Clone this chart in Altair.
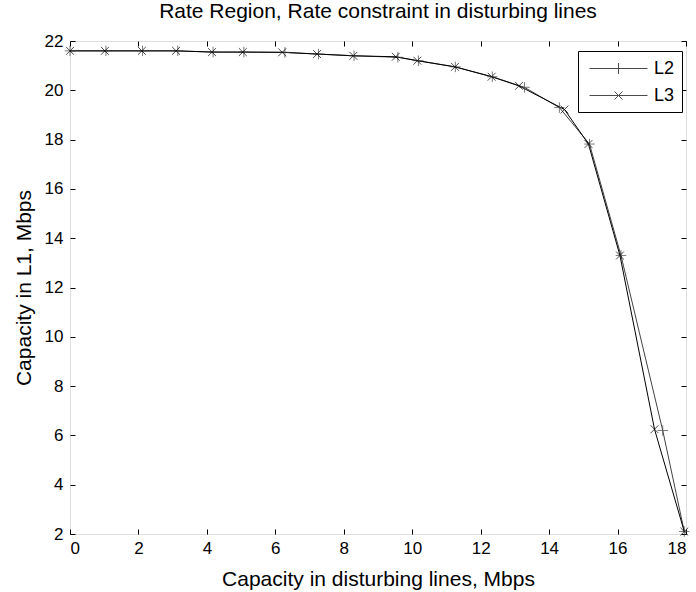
import altair as alt
import pandas as pd

series = ["L2", "L3"]
l2_x = [0, 1.05, 2.12, 3.15, 4.18, 5.08, 6.28, 7.26, 8.3, 9.58, 10.18, 11.26, 12.34, 13.28, 14.3, 15.18, 16.1, 17.32, 17.95]
l2_y = [21.6, 21.6, 21.6, 21.6, 21.55, 21.55, 21.54, 21.47, 21.4, 21.34, 21.2, 20.95, 20.55, 20.12, 19.3, 17.82, 13.3, 6.2, 2.1]
l3_x = [0, 1.02, 2.1, 3.1, 4.15, 5.05, 6.2, 7.22, 8.28, 9.52, 10.15, 11.25, 12.32, 13.12, 14.45, 15.15, 16.07, 17.08, 17.95]
l3_y = [21.6, 21.6, 21.6, 21.6, 21.55, 21.55, 21.54, 21.47, 21.4, 21.36, 21.2, 20.95, 20.55, 20.18, 19.22, 17.82, 13.3, 6.25, 2.1]
x_ticks = [0, 2, 4, 6, 8, 10, 12, 14, 16, 18]
y_ticks = [2, 4, 6, 8, 10, 12, 14, 16, 18, 20, 22]

df = pd.concat([
    pd.DataFrame({"x": l2_x, "y": l2_y, "series": "L2"}),
    pd.DataFrame({"x": l3_x, "y": l3_y, "series": "L3"}),
], ignore_index=True)

FONT = "Liberation Sans"
PLUS = "M-1,0H1M0,-1V1"
CROSS = "M-0.75,-0.75L0.75,0.75M-0.75,0.75L0.75,-0.75"
LEG_PLUS = "M-0.6,0H5.2M2.3,-0.55V0.55"
LEG_CROSS = "M-0.6,0H5.2M1.9,-0.4L2.7,0.4M1.9,0.4L2.7,-0.4"

x_scale = alt.Scale(domain=[0, 18], nice=False, zero=False)
y_scale = alt.Scale(domain=[2, 22], nice=False, zero=False)
color_scale = alt.Scale(domain=series, range=["#444444", "#000000"])

common_axis = dict(tickSize=5, offset=-5, domain=False, grid=False,
                   tickColor="black", labelColor="black", titleColor="black",
                   labelFont=FONT, titleFont=FONT, labelFontSize=17,
                   titleFontSize=21, titleFontWeight="normal")

x_axis = alt.Axis(values=x_ticks, orient="bottom", labelPadding=6, titlePadding=12,
                  title="Capacity in disturbing lines, Mbps", **common_axis)
y_axis = alt.Axis(values=y_ticks, orient="left", labelPadding=7, titlePadding=10,
                  title="Capacity in L1, Mbps", **common_axis)
x_axis_top = alt.Axis(values=x_ticks, orient="top", labels=False, title=None,
                      tickSize=5, offset=-5, domain=False, grid=False, tickColor="black")
y_axis_right = alt.Axis(values=y_ticks, orient="right", labels=False, title=None,
                        tickSize=5, offset=-5, domain=False, grid=False, tickColor="black")

base = alt.Chart(df)

lines = base.mark_line(strokeWidth=1).encode(
    x=alt.X("x:Q", scale=x_scale, axis=x_axis),
    y=alt.Y("y:Q", scale=y_scale, axis=y_axis),
    color=alt.Color("series:N", scale=color_scale, legend=None),
    detail="series:N",
)

points = base.mark_point(filled=False, size=110, strokeWidth=1).encode(
    x=alt.X("x:Q", scale=x_scale, axis=None),
    y=alt.Y("y:Q", scale=y_scale, axis=None),
    color=alt.Color("series:N", scale=color_scale, legend=None),
    shape=alt.Shape("series:N", scale=alt.Scale(domain=series, range=[PLUS, CROSS]), legend=None),
)

legend_layer = base.transform_filter("false").mark_point(
    filled=False, strokeWidth=1, color="black"
).encode(
    x=alt.X("x:Q", scale=x_scale, axis=x_axis_top),
    y=alt.Y("y:Q", scale=y_scale, axis=y_axis_right),
    shape=alt.Shape(
        "series:N",
        scale=alt.Scale(domain=series, range=[LEG_PLUS, LEG_CROSS]),
        legend=alt.Legend(
            title=None, orient="none", legendX=508, legendY=10,
            symbolSize=400, symbolStrokeWidth=1, symbolStrokeColor="black",
            symbolFillColor="transparent", symbolType="circle",
            labelOffset=48, labelFont=FONT, labelFontSize=18, labelColor="black",
            padding=7, rowPadding=7, strokeColor="black", fillColor="white",
            cornerRadius=0,
        ),
    ),
)

chart = alt.layer(lines, points, legend_layer).resolve_scale(
    shape="independent"
).resolve_axis(
    x="independent", y="independent"
).properties(
    width=616, height=493,
    autosize=alt.AutoSizeParams(type="none"),
    padding={"left": 70, "top": 41, "right": 10, "bottom": 58},
    title=alt.TitleParams("Rate Region, Rate constraint in disturbing lines",
                          font=FONT, fontSize=21, fontWeight="normal",
                          color="black", offset=10, anchor="middle"),
).configure_view(stroke="black", strokeWidth=1).configure(background="white")

chart.save("out.html", embed_options={"renderer": "svg", "actions": False})
